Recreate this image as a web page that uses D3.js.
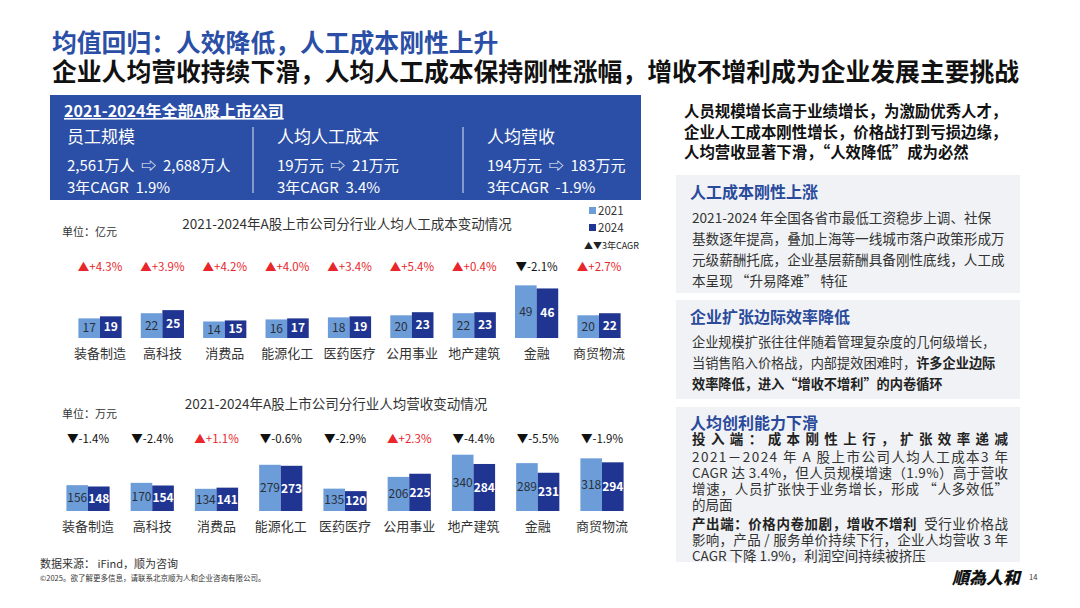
<!DOCTYPE html>
<html>
<head>
<meta charset="utf-8">
<script src="https://cdn.jsdelivr.net/npm/d3@7"></script>
<style>
  html, body { margin: 0; padding: 0; background: #fff; }
  svg { display: block; font-family: "Noto Sans CJK SC", "Noto Sans CJK JP", "Noto Sans", sans-serif; }
</style>
</head>
<body>
<svg id="chart" width="1080" height="608"></svg>
<script>
// industries shared by both charts
const industries = ["装备制造", "高科技", "消费品", "能源化工", "医药医疗", "公用事业", "地产建筑", "金融", "商贸物流"];
const years = ["2021", "2024"];

// 人均人工成本 (chart 1)
const cost2021 = [17, 22, 14, 16, 18, 20, 22, 49, 20];
const cost2024 = [19, 25, 15, 17, 19, 23, 23, 46, 22];
const costCagr = [4.3, 3.9, 4.2, 4.0, 3.4, 5.4, 0.4, -2.1, 2.7];

// 人均营收 (chart 2)
const rev2021 = [156, 170, 134, 279, 135, 206, 340, 289, 318];
const rev2024 = [148, 154, 141, 273, 120, 225, 284, 231, 294];
const revCagr = [-1.4, -2.4, 1.1, -0.6, -2.9, 2.3, -4.4, -5.5, -1.9];

// summary box
const kpiTitles = ["员工规模", "人均人工成本", "人均营收"];
const kpiFrom = ["2,561万人", "19万元", "194万元"];
const kpiTo = ["2,688万人", "21万元", "183万元"];
const kpiCagr = ["1.9%", "3.4%", "-1.9%"];

const LIGHT = "#6c9dd8", DARK = "#1f3591", BLUE = "#2b4fa6", RED = "#e8262b";

const svg = d3.select("#chart");

// headline
svg.append("text").attr("x", 52).attr("y", 52)
  .attr("font-size", 24.8).attr("font-weight", 700).attr("fill", BLUE)
  .text("均值回归：人效降低，人工成本刚性上升");
svg.append("text").attr("x", 52).attr("y", 81)
  .attr("font-size", 24.8).attr("font-weight", 700).attr("fill", "#111")
  .text("企业人均营收持续下滑，人均人工成本保持刚性涨幅，增收不增利成为企业发展主要挑战");

// summary box
svg.append("rect").attr("x", 50).attr("y", 95).attr("width", 591).attr("height", 105).attr("fill", BLUE);
svg.append("text").attr("x", 64).attr("y", 117)
  .attr("font-size", 16).attr("font-weight", 700).attr("fill", "#fff")
  .attr("text-decoration", "underline")
  .text("2021-2024年全部A股上市公司");

const colX = [67, 277, 487];
kpiTitles.forEach((t, i) => {
  const g = svg.append("g").attr("transform", `translate(${colX[i]},0)`);
  g.append("text").attr("y", 143).attr("font-size", 17).attr("fill", "#fff").text(t);
  g.append("text").attr("y", 171).attr("font-size", 15).attr("fill", "#fff").attr("xml:space", "preserve")
    .text(`${kpiFrom[i]}  ⇨  ${kpiTo[i]}`);
  g.append("text").attr("y", 193).attr("font-size", 15).attr("fill", "#fff")
    .attr("xml:space", "preserve").text(`3年CAGR  ${kpiCagr[i]}`);
  if (i > 0) {
    g.append("line").attr("x1", -24).attr("x2", -24).attr("y1", 127).attr("y2", 193)
      .attr("stroke", "#dfe6f5").attr("stroke-width", 1);
  }
});

// grouped bar chart
function barChart(opts) {
  const { v2021, v2024, cagr, centers, baseline, yScale, title, titleX, titleY, unit, unitY, cagrY, catY } = opts;
  const x = d3.scalePoint().domain(industries).range(centers);
  const xs = d3.scaleBand().domain(years).range([-21.6, 21.6]);
  const rows = industries.map((d, i) => ({ ind: d, vals: [v2021[i], v2024[i]], cagr: cagr[i] }));

  svg.append("text").attr("x", titleX).attr("y", titleY).attr("text-anchor", "middle")
    .attr("font-size", 13.5).attr("fill", "#333").text(title);
  svg.append("text").attr("x", 62).attr("y", unitY).attr("font-size", 11).attr("fill", "#333").text(unit);

  const g = svg.append("g");
  const grp = g.selectAll("g.grp").data(rows).join("g")
    .attr("class", "grp").attr("transform", d => `translate(${x(d.ind)},0)`);

  grp.selectAll("rect").data(d => d.vals.map((v, j) => ({ year: years[j], v })))
    .join("rect")
    .attr("x", d => xs(d.year))
    .attr("width", xs.bandwidth())
    .attr("y", d => yScale(d.v))
    .attr("height", d => baseline - yScale(d.v))
    .attr("fill", d => d.year === "2021" ? LIGHT : DARK);

  grp.selectAll("text.val").data(d => d.vals.map((v, j) => ({ year: years[j], v })))
    .join("text").attr("class", "val")
    .attr("x", d => xs(d.year) + xs.bandwidth() / 2)
    .attr("y", d => (yScale(d.v) + baseline) / 2)
    .attr("dy", "0.35em").attr("text-anchor", "middle")
    .attr("font-size", 12)
    .attr("font-weight", d => d.year === "2024" ? 700 : 400)
    .attr("fill", d => d.year === "2021" ? "#2a2f3a" : "#fff")
    .text(d => d.v);

  grp.append("text").attr("y", catY).attr("text-anchor", "middle")
    .attr("font-size", 13).attr("fill", "#333").text(d => d.ind);

  grp.append("text").attr("y", cagrY).attr("text-anchor", "middle")
    .attr("font-size", 11.5)
    .attr("fill", d => d.cagr > 0 ? RED : "#111")
    .text(d => (d.cagr > 0 ? "▲+" : "▼") + d.cagr.toFixed(1) + "%");
}

barChart({
  v2021: cost2021, v2024: cost2024, cagr: costCagr,
  centers: [100, 599], baseline: 338,
  yScale: d3.scaleLinear().domain([-2, 60]).range([338, 274]),
  title: "2021-2024年A股上市公司分行业人均人工成本变动情况", titleX: 347, titleY: 229,
  unit: "单位：亿元", unitY: 236, cagrY: 271, catY: 358
});

barChart({
  v2021: rev2021, v2024: rev2024, cagr: revCagr,
  centers: [88, 602], baseline: 511,
  yScale: d3.scaleLinear().domain([0, 340]).range([511, 454.7]),
  title: "2021-2024年A股上市公司分行业人均营收变动情况", titleX: 336, titleY: 409,
  unit: "单位：万元", unitY: 418, cagrY: 443, catY: 531
});

// legend
const leg = svg.append("g").attr("transform", "translate(589,0)");
years.forEach((yr, i) => {
  leg.append("rect").attr("x", 0).attr("y", 207 + i * 17).attr("width", 7).attr("height", 7)
    .attr("fill", i === 0 ? LIGHT : DARK);
  leg.append("text").attr("x", 9).attr("y", 215 + i * 17).attr("font-size", 11.5).attr("fill", "#333").text(yr);
});
leg.append("text").attr("x", -5).attr("y", 249).attr("font-size", 9).attr("fill", "#222").text("▲▼3年CAGR");

// footer
svg.append("text").attr("x", 40).attr("y", 568).attr("font-size", 11).attr("fill", "#333").text("数据来源： iFind，顺为咨询");
svg.append("text").attr("x", 40).attr("y", 581).attr("font-size", 7.5).attr("fill", "#333")
  .text("©2025。欲了解更多信息，请联系北京顺为人和企业咨询有限公司。");
svg.append("text").attr("x", 952).attr("y", 584).attr("font-size", 17).attr("font-weight", 900)
  .attr("font-family", "Noto Sans CJK TC").attr("fill", "#111").attr("font-style", "italic").text("順為人和");
svg.append("text").attr("x", 1029).attr("y", 580).attr("font-size", 7.5).attr("fill", "#333").text("14");

// right panel
const lead = ["人员规模增长高于业绩增长，为激励优秀人才，", "企业人工成本刚性增长，价格战打到亏损边缘，", "人均营收显著下滑，“人效降低”成为必然"];
lead.forEach((t, i) => {
  svg.append("text").attr("x", 684).attr("y", 117 + i * 20.5).attr("font-size", 15.4).attr("font-weight", 700)
    .attr("fill", "#111").text(t);
});

function panel(y, h, title, titleY, lines) {
  svg.append("rect").attr("x", 676).attr("y", y).attr("width", 344).attr("height", h).attr("fill", "#f0f2f5");
  svg.append("text").attr("x", 690).attr("y", titleY).attr("font-size", 16).attr("font-weight", 700)
    .attr("fill", "#2a4a9c").text(title);
  lines.forEach(l => {
    const t = svg.append("text").attr("x", 692).attr("y", l.y).attr("font-size", l.size || 13.5).attr("fill", "#333")
      .attr("xml:space", "preserve");
    if (l.len) t.attr("textLength", l.len).attr("lengthAdjust", "spacing");
    l.parts.forEach(p => {
      t.append("tspan").attr("font-weight", p.b ? 700 : 400).attr("fill", p.b ? "#222" : "#333").text(p.t);
    });
  });
}

panel(175, 118, "人工成本刚性上涨", 198, [
  { y: 223, size: 13.6, parts: [{ t: "2021-2024 年全国各省市最低工资稳步上调、社保" }] },
  { y: 244, size: 13.6, parts: [{ t: "基数逐年提高，叠加上海等一线城市落户政策形成万" }] },
  { y: 265, size: 13.6, parts: [{ t: "元级薪酬托底，企业基层薪酬具备刚性底线，人工成" }] },
  { y: 286, size: 13.6, parts: [{ t: "本呈现 “升易降难” 特征" }] }
]);

panel(300, 99, "企业扩张边际效率降低", 323, [
  { y: 347, size: 13.2, parts: [{ t: "企业规模扩张往往伴随着管理复杂度的几何级增长，" }] },
  { y: 368, size: 13.2, parts: [{ t: "当销售陷入价格战，内部提效困难时，" }, { t: "许多企业边际", b: true }] },
  { y: 389, size: 13.2, parts: [{ t: "效率降低，进入“增收不增利”的内卷循环", b: true }] }
]);

panel(407, 155, "人均创利能力下滑", 429, [
  { y: 444, len: 316, parts: [{ t: "投入端：成本刚性上行，扩张效率递减", b: true }] },
  { y: 462, len: 316, parts: [{ t: "2021－2024 年 A 股上市公司人均人工成本3 年" }] },
  { y: 478, len: 316, parts: [{ t: "CAGR 达 3.4%，但人员规模增速（1.9%）高于营收" }] },
  { y: 494, len: 316, parts: [{ t: "增速，人员扩张快于业务增长，形成 “人多效低”" }] },
  { y: 510, parts: [{ t: "的局面" }] },
  { y: 529, len: 316, parts: [{ t: "产出端：价格内卷加剧，增收不增利", b: true }, { t: "  受行业价格战" }] },
  { y: 545, len: 316, parts: [{ t: "影响，产品 / 服务单价持续下行，企业人均营收 3 年" }] },
  { y: 561, parts: [{ t: "CAGR 下降 1.9%，利润空间持续被挤压" }] }
]);
</script>
</body>
</html>
